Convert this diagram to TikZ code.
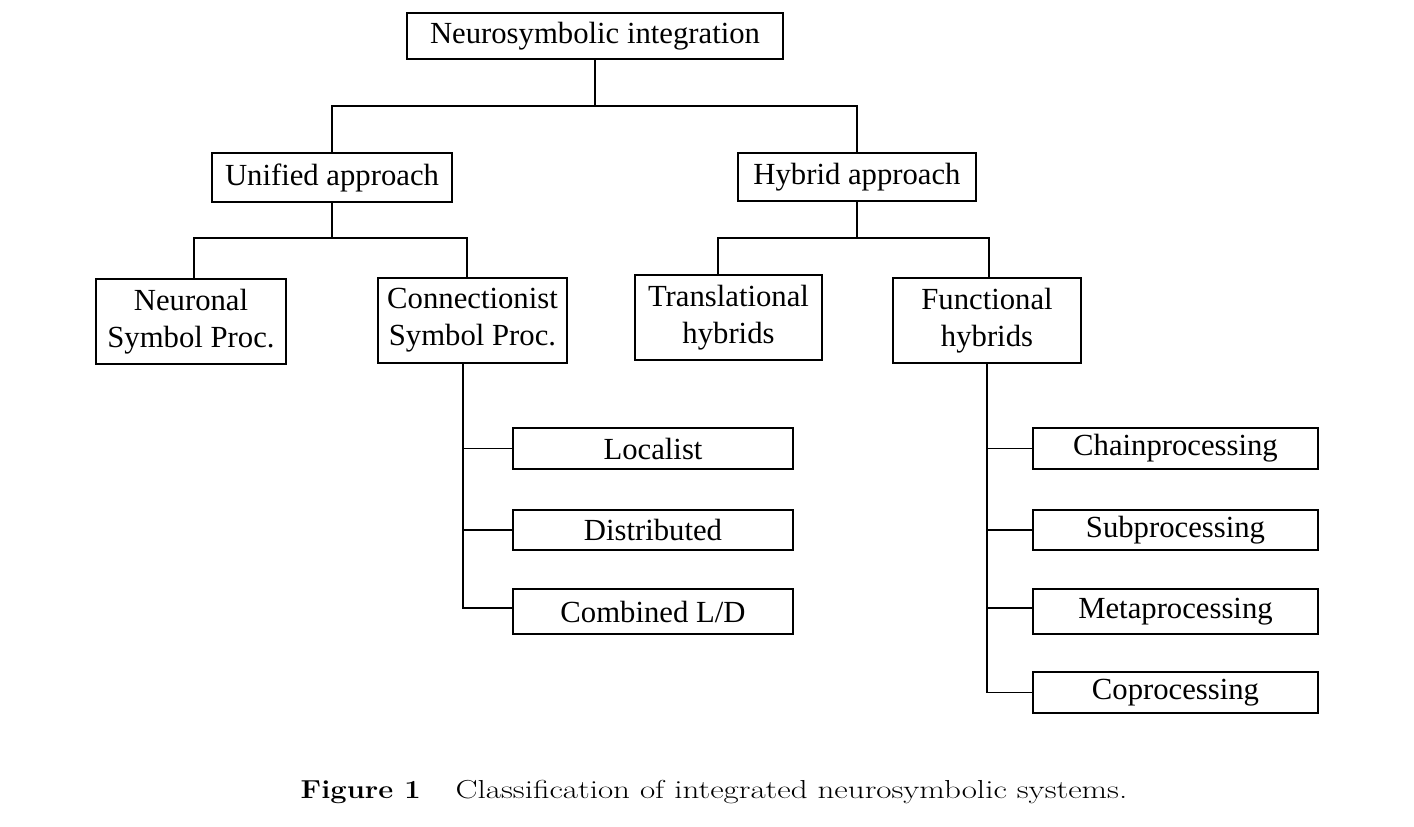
\documentclass[tikz,border=0pt]{standalone}
\usepackage{graphicx}
\usepackage{fontspec}
\newfontfamily\tms{Liberation Serif}
\begin{document}
\begin{tikzpicture}[x=1pt,y=-1pt,
  line width=1.4pt,
  box/.style={draw, rectangle, inner sep=0pt, align=center,
    font=\tms\fontsize{30.7}{37}\selectfont},
  link/.style={draw, line width=1.4pt}]
\useasboundingbox (0,0) rectangle (1414,827);

% level 0
\node[box, minimum width=376pt, minimum height=46pt] (top) at (595,36) {Neurosymbolic integration};
% level 1
\node[box, minimum width=240pt, minimum height=49pt] (unified) at (332,177.5) {Unified approach};
\node[box, minimum width=238pt, minimum height=48pt] (hybrid) at (857,177) {Hybrid approach};
% level 2
\node[box, minimum width=190pt, minimum height=85pt] (neuronal) at (191,321.5) {Neuronal\\Symbol Proc.};
\node[box, minimum width=189pt, minimum height=85pt] (connect) at (472.5,320.5) {Connectionist\\Symbol Proc.};
\node[box, minimum width=187pt, minimum height=85pt] (transl) at (728.5,317.5) {Translational\\hybrids};
\node[box, minimum width=188pt, minimum height=85pt] (funct) at (987,320.5) {Functional\\hybrids};
% level 3 left
\node[box, minimum width=280pt, minimum height=41pt] (localist) at (653,448.5) {Localist};
\node[box, minimum width=280pt, minimum height=40pt] (distrib) at (653,530) {Distributed};
\node[box, minimum width=280pt, minimum height=45pt] (combined) at (653,611.5) {Combined L/D};
% level 3 right
\node[box, minimum width=285pt, minimum height=41pt] (chain) at (1175.5,448.5) {Chainprocessing};
\node[box, minimum width=285pt, minimum height=40pt] (subp) at (1175.5,530) {Subprocessing};
\node[box, minimum width=285pt, minimum height=45pt] (meta) at (1175.5,611.5) {Metaprocessing};
\node[box, minimum width=285pt, minimum height=41pt] (cop) at (1175.5,692.5) {Coprocessing};

% junctions
\coordinate (j1) at (595,106);
\coordinate (j2) at (332,238);
\coordinate (j3) at (857,238);
\coordinate (cv) at (463,363);
\coordinate (fv) at (987,363);
\path ([yshift=3.5pt]combined.west) coordinate (cw);
\path ([yshift=3.5pt]meta.west) coordinate (mw);

\draw[link] (top.south) -- (j1);
\draw[link] (unified.north) |- (j1) -| (hybrid.north);

\draw[link] (unified.south) -- (j2);
\draw[link] ([xshift=3pt]neuronal.north) |- (j2) -| ([xshift=-5.5pt]connect.north);

\draw[link] (hybrid.south) -- (j3);
\draw[link] ([xshift=-10.5pt]transl.north) |- (j3) -| ([xshift=2pt]funct.north);

\draw[link] (cv) |- (cw);
\draw[link] (cv |- localist.west) -- (localist.west);
\draw[link] (cv |- distrib.west) -- (distrib.west);

\draw[link] (fv) |- (cop.west);
\draw[link] (fv |- chain.west) -- (chain.west);
\draw[link] (fv |- subp.west) -- (subp.west);
\draw[link] (fv |- mw) -- (mw);

% caption
\node[anchor=base west, inner sep=0pt, font=\fontsize{26}{31}\selectfont] (caption) at (300,798)
  {\scalebox{1.12}[1]{\textbf{Figure 1}}\hspace{35pt}\scalebox{1.27}[1]{Classification of integrated neurosymbolic systems.}};
\end{tikzpicture}
\end{document}
